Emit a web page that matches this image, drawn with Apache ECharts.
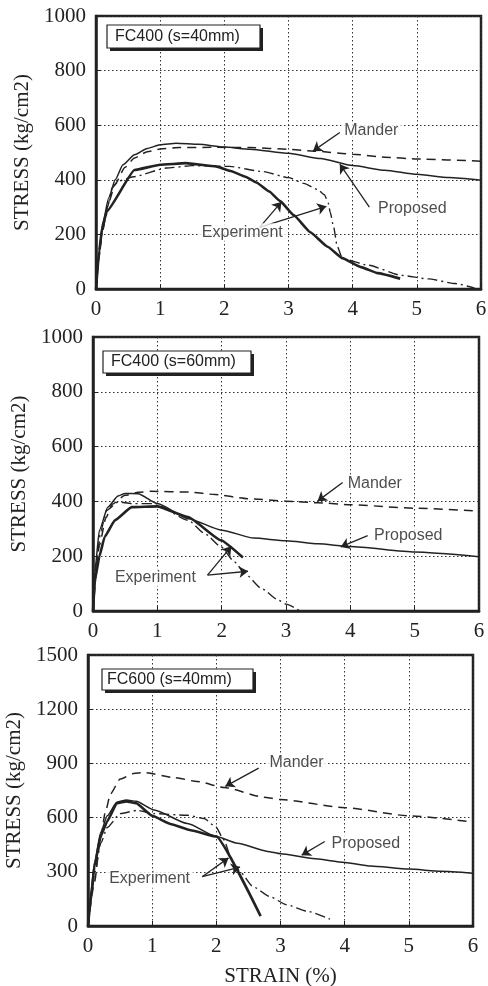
<!DOCTYPE html>
<html>
<head>
<meta charset="utf-8">
<script src="https://cdn.jsdelivr.net/npm/echarts@6/dist/echarts.min.js"></script>
<style>
html,body{margin:0;padding:0;background:#fff;}
#chart{width:488px;height:986px;}
</style>
</head>
<body>
<div id="chart"></div>
<script>
// ---------- DATA (strain %, stress kg/cm2) ----------
const STRAIN_TICKS = [0, 1, 2, 3, 4, 5, 6];

// Panel 1: FC400 (s=40mm)
const P1_TITLE = 'FC400 (s=40mm)';
const P1_PROPOSED = [[0,0],[0.05,140],[0.1,235],[0.2,335],[0.3,400],[0.42,455],[0.6,492],[0.8,515],[1.0,528],[1.25,534],[1.6,530],[2.0,520],[2.4,512],[3.0,497],[3.5,478],[4.0,452],[4.5,435],[5.0,420],[5.5,408],[6.0,398]];
const P1_MANDER = [[0,0],[0.1,215],[0.2,320],[0.3,385],[0.45,445],[0.6,480],[0.8,503],[1.0,513],[1.3,518],[1.8,519],[2.4,518],[3.0,512],[3.4,505],[4.0,494],[4.5,483],[5.0,476],[6.0,468]];
const P1_EXP_A = [[0,0],[0.05,140],[0.1,230],[0.17,285],[0.6,436],[1.0,455],[1.4,461],[1.87,449],[2.1,432],[2.33,411],[2.5,390],[2.7,357],[2.87,322],[3.08,271],[3.34,208],[3.61,155],[3.84,113],[4.13,80],[4.39,58],[4.74,38]];
const P1_EXP_B = [[0,0],[0.05,120],[0.1,210],[0.18,300],[0.25,370],[0.35,395],[0.58,411],[1.1,443],[1.5,452],[2.08,449],[2.6,430],[3.0,408],[3.24,387],[3.45,365],[3.56,345],[3.62,315],[3.65,281],[3.7,231],[3.76,156],[3.84,112],[4.24,87],[4.76,50],[5.18,37],[5.6,20],[5.9,3]];
const P1_LABELS = [['Mander',4.29,580],['Proposed',4.93,293],['Experiment',2.28,208]];
const P1_ARROWS = [[3.8,573,3.38,505],[4.26,300,3.8,457],[2.55,226,2.89,319],[2.55,226,3.59,303]];

// Panel 2: FC400 (s=60mm)
const P2_TITLE = 'FC400 (s=60mm)';
const P2_PROPOSED = [[0,0],[0.03,150],[0.1,295],[0.23,379],[0.39,420],[0.5,429],[0.7,428],[1.0,392],[1.48,337],[2.0,295],[2.5,266],[3.0,256],[3.5,245],[4.0,235],[5.0,215],[6.0,198]];
const P2_MANDER = [[0,0],[0.1,240],[0.2,340],[0.3,390],[0.5,422],[0.7,433],[0.9,437],[1.5,434],[1.9,425],[2.4,410],[3.0,401],[3.5,395],[4.0,388],[5.0,375],[6.0,365]];
const P2_EXP_A = [[0,0],[0.03,113],[0.1,200],[0.18,270],[0.34,331],[0.6,379],[1.0,382],[1.48,343],[1.99,258],[2.33,195]];
const P2_EXP_B = [[0,0],[0.05,170],[0.12,290],[0.21,367],[0.39,398],[0.6,392],[0.96,392],[1.48,331],[1.74,282],[1.99,234],[2.2,179],[2.36,137],[2.62,82],[2.88,40],[3.0,25],[3.2,3]];
const P2_LABELS = [['Mander',4.38,464],['Proposed',4.9,275],['Experiment',0.97,122]];
const P2_ARROWS = [[3.88,469,3.49,401],[4.27,275,3.85,234],[1.78,131,2.15,236],[1.78,131,2.41,145]];

// Panel 3: FC600 (s=40mm)
const P3_TITLE = 'FC600 (s=40mm)';
const P3_PROPOSED = [[0,0],[0.05,200],[0.1,350],[0.2,520],[0.3,610],[0.45,685],[0.6,698],[0.75,690],[1.03,642],[1.55,567],[1.99,497],[2.33,458],[2.8,413],[3.0,400],[3.5,374],[4.0,352],[4.4,332],[5.0,315],[5.5,303],[6.0,292]];
const P3_MANDER = [[0,0],[0.1,240],[0.19,470],[0.27,630],[0.35,731],[0.5,813],[0.71,844],[0.87,849],[1.34,822],[1.7,800],[2.12,767],[2.74,713],[3.0,700],[4.0,655],[5.0,610],[6.0,575]];
const P3_EXP_A = [[0,0],[0.05,170],[0.1,330],[0.2,500],[0.3,580],[0.45,680],[0.6,690],[0.75,680],[1.0,610],[1.3,563],[1.6,530],[2.0,495],[2.69,55]];
const P3_EXP_B = [[0,0],[0.05,150],[0.1,290],[0.2,460],[0.3,545],[0.5,622],[0.77,640],[1.03,622],[1.55,613],[1.81,595],[1.99,549],[2.12,476],[2.22,385],[2.3,330],[2.37,300],[2.57,218],[2.83,164],[3.09,118],[3.41,82],[3.77,38]];
const P3_LABELS = [['Mander',3.25,903],['Proposed',4.33,456],['Experiment',0.96,260]];
const P3_ARROWS = [[2.66,874,2.14,773],[3.69,468,3.33,392],[1.78,273,2.19,377],[1.78,273,2.37,326]];

const Y_MAX = [1000, 1000, 1500];
const Y_STEP = [200, 200, 300];

// ---------- LAYOUT ----------
const GRIDS = [
  {left: 96, top: 16, width: 385, height: 273},
  {left: 93, top: 337, width: 386, height: 274},
  {left: 88, top: 655, width: 385, height: 271}
];
const BOXES = [
  {x: 107, y: 25, w: 153, h: 23, tx: 115},
  {x: 103, y: 351, w: 148, h: 22, tx: 111},
  {x: 102, y: 669, w: 151, h: 21, tx: 107}
];

const panels = [
  {title: P1_TITLE, prop: P1_PROPOSED, mander: P1_MANDER, expA: P1_EXP_A, expB: P1_EXP_B, labels: P1_LABELS, arrows: P1_ARROWS},
  {title: P2_TITLE, prop: P2_PROPOSED, mander: P2_MANDER, expA: P2_EXP_A, expB: P2_EXP_B, labels: P2_LABELS, arrows: P2_ARROWS},
  {title: P3_TITLE, prop: P3_PROPOSED, mander: P3_MANDER, expA: P3_EXP_A, expB: P3_EXP_B, labels: P3_LABELS, arrows: P3_ARROWS}
];

const INK = '#222';
const SERIF = 'Liberation Serif, Times New Roman, serif';
const SANS = 'Liberation Sans, Arial, sans-serif';

const grid = GRIDS.map(g => Object.assign({show: true, borderColor: INK, borderWidth: 2.5,
  backgroundColor: 'transparent', containLabel: false, outerBoundsMode: 'none'}, g));

const xAxis = GRIDS.map((g, i) => ({
  type: 'value', gridIndex: i, min: STRAIN_TICKS[0], max: STRAIN_TICKS[STRAIN_TICKS.length - 1], interval: 1,
  axisLine: {show: true, lineStyle: {color: INK, width: 2.5}},
  axisTick: {show: true, inside: true, length: 5, lineStyle: {color: INK, width: 1}},
  splitLine: {show: true, lineStyle: {color: '#333', type: [1.5, 2.5], width: 1}},
  axisLabel: {fontFamily: SERIF, fontSize: 21, color: INK, margin: 10, formatter: v => String(v)},
  name: i === 2 ? 'STRAIN (%)' : '',
  nameLocation: 'middle', nameGap: 40,
  nameTextStyle: {fontFamily: SERIF, fontSize: 21, color: INK}
}));

const yAxis = GRIDS.map((g, i) => ({
  type: 'value', gridIndex: i, min: 0, max: Y_MAX[i], interval: Y_STEP[i],
  axisLine: {show: true, lineStyle: {color: INK, width: 2.5}},
  axisTick: {show: true, inside: true, length: 5, lineStyle: {color: INK, width: 1}},
  splitLine: {show: true, lineStyle: {color: '#333', type: [1.5, 2.5], width: 1}},
  axisLabel: {fontFamily: SERIF, fontSize: 21, color: INK, margin: 10, formatter: v => String(v)},
  name: 'STRESS (kg/cm2)',
  nameLocation: 'middle', nameGap: 56,
  nameTextStyle: {fontFamily: SERIF, fontSize: 21, color: INK}
}));

const series = [];
panels.forEach((p, i) => {
  const base = {type: 'line', xAxisIndex: i, yAxisIndex: i, showSymbol: false, symbol: 'none',
    smooth: 0.2, smoothMonotone: 'x', silent: true, z: 3};
  series.push(Object.assign({}, base, {name: 'Proposed', data: p.prop, lineStyle: {color: INK, width: 1.5}}));
  series.push(Object.assign({}, base, {name: 'Mander', data: p.mander, lineStyle: {color: INK, width: 1.5, type: [9, 6]}}));
  series.push(Object.assign({}, base, {name: 'Experiment A', data: p.expA, smooth: 0.12, lineStyle: {color: INK, width: 2.6}}));
  series.push(Object.assign({}, base, {name: 'Experiment B', data: p.expB, lineStyle: {color: INK, width: 1.4, type: [10, 4, 2, 4]}}));
  series.push({
    type: 'lines', coordinateSystem: 'cartesian2d', xAxisIndex: i, yAxisIndex: i, silent: true, z: 5,
    symbol: ['none', 'arrow'], symbolSize: [0, 9],
    lineStyle: {color: INK, width: 1.3, opacity: 1, curveness: 0},
    data: p.arrows.map(a => ({coords: [[a[0], a[1]], [a[2], a[3]]]}))
  });
  series.push({
    type: 'scatter', xAxisIndex: i, yAxisIndex: i, silent: true, z: 6,
    symbolSize: 1, itemStyle: {color: 'rgba(0,0,0,0)'},
    label: {show: true, position: 'inside', formatter: '{b}', fontFamily: SANS, fontSize: 16,
      color: '#222', backgroundColor: '#fff', padding: [1, 3]},
    data: p.labels.map(l => ({name: l[0], value: [l[1], l[2]]}))
  });
});

const graphic = panels.map((p, i) => {
  const b = BOXES[i];
  return {
    type: 'group', z: 100,
    children: [
      {type: 'rect', z: 100, shape: {x: b.x + 3, y: b.y + 3, width: b.w, height: b.h}, style: {fill: INK}},
      {type: 'rect', z: 101, shape: {x: b.x, y: b.y, width: b.w, height: b.h}, style: {fill: '#fff', stroke: INK, lineWidth: 1.2}},
      {type: 'text', z: 102, x: b.tx, y: b.y + b.h / 2, style: {text: p.title, font: '16px ' + SANS, fill: '#222', verticalAlign: 'middle'}}
    ]
  };
});

const chart = echarts.init(document.getElementById('chart'), null, {renderer: 'canvas'});
chart.setOption({
  animation: false,
  backgroundColor: '#fff',
  grid, xAxis, yAxis, series, graphic
});
</script>
</body>
</html>
